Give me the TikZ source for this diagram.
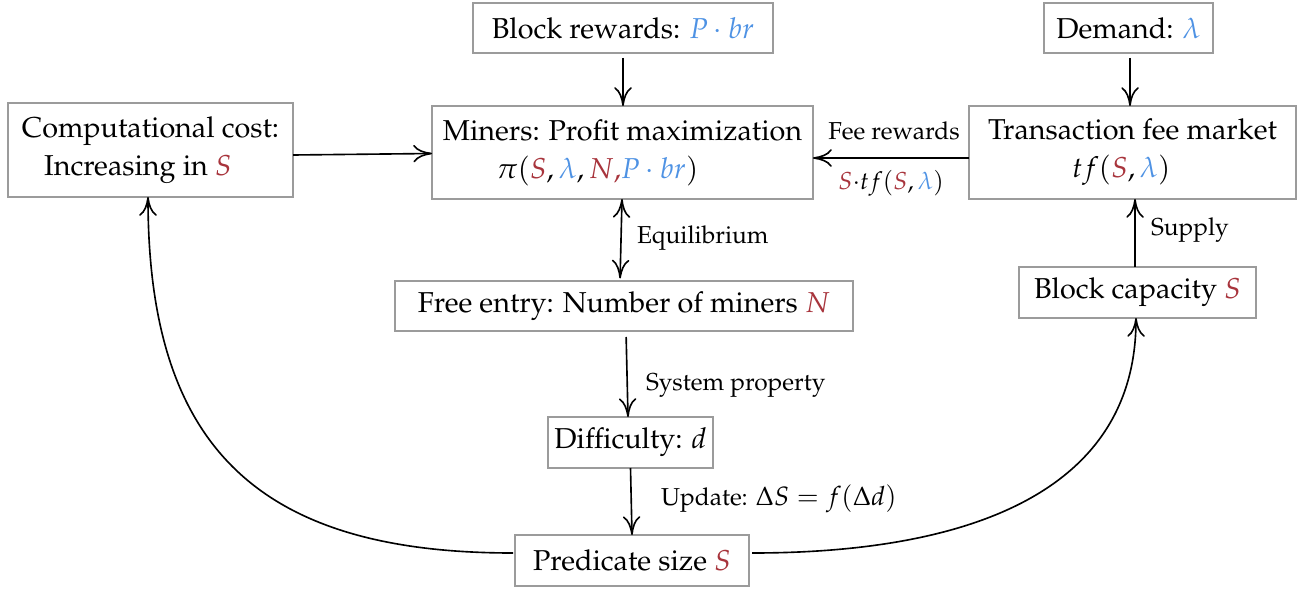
\documentclass[tikz,border=0pt]{standalone}
\usepackage[T1]{fontenc}
\usepackage{mathpazo}
\usetikzlibrary{arrows.meta}
\definecolor{myred}{RGB}{168,52,60}
\definecolor{myblue}{RGB}{78,146,228}
\definecolor{boxgray}{RGB}{155,155,155}
\tikzset{
  box/.style={draw=boxgray, line width=0.7pt, fill=white, inner sep=0pt, outer sep=0pt,
    align=center, font=\fontsize{11.5}{15.2}\selectfont},
  lbl/.style={inner sep=0pt, outer sep=0pt, font=\fontsize{9.8}{12}\selectfont},
  tip/.tip={Computer Modern Rightarrow[length=7.5pt,width=7pt]},
  arr/.style={-tip, line width=0.65pt},
  biarr/.style={tip-tip, line width=0.65pt},
}
\newcommand{\rS}{\textcolor{myred}{S}}
\newcommand{\bl}{\textcolor{myblue}{\lambda}}
\begin{document}
\begin{tikzpicture}[x=0.4pt,y=-0.4pt]
\useasboundingbox (0,0) rectangle (1310,592);

% nodes
\node[box, minimum width=114pt, minimum height=37.6pt] (comp) at (150.5,150)
  {Computational cost:\\ Increasing in $\rS$\hspace*{10pt}};
\node[box, minimum width=120pt, minimum height=20pt] (brew) at (623,28)
  {Block rewards: $\textcolor{myblue}{P\cdot br}$};
\node[box, minimum width=152.4pt, minimum height=37.2pt] (miners) at (622.5,152.5)
  {Miners: Profit maximization\\ $\pi(\rS,\bl,\textcolor{myred}{N,}\textcolor{myblue}{P\cdot br})$\hspace*{20pt}};
\node[box, minimum width=67.6pt, minimum height=20pt] (demand) at (1128.5,28)
  {Demand: $\bl$};
\node[box, minimum width=130.8pt, minimum height=37.2pt] (trans) at (1132.5,152.5)
  {Transaction fee market\\ $tf(\rS,\bl)$\hspace*{9pt}};
\node[box, minimum width=183.2pt, minimum height=20pt] (free) at (624,306)
  {Free entry: Number of miners $\textcolor{myred}{N}$};
\node[box, minimum width=94.8pt, minimum height=20.4pt] (bcap) at (1137.5,292.5)
  {Block capacity $\rS$};
\node[box, minimum width=66pt, minimum height=20.4pt] (diff) at (630.5,442.5)
  {Difficulty: $d$};
\node[box, minimum width=93.6pt, minimum height=20.4pt] (pred) at (632,560.5)
  {Predicate size $\rS$};

% connectors
\draw[arr] ([yshift=-2pt]comp.east) -- ([yshift=-0.4pt]miners.west);
\draw[arr, shorten <=2pt] (brew.south) -- (brew.south |- miners.north);
\draw[arr] ([yshift=-2.2pt]trans.west) -- ([yshift=-2.2pt]miners.east);
\draw[arr, shorten <=2pt] ([xshift=0.6pt]demand.south) -- ([xshift=0.6pt]demand.south |- trans.north);
\draw[biarr, shorten >=1pt] ([xshift=-0.2pt]miners.south) -- ([xshift=-1.6pt]free.north);
\draw[arr, shorten <=2.4pt] ([xshift=0.8pt]free.south) -- ([xshift=-1pt]diff.north);
\draw[arr] (diff.south) -- (pred.north);
\draw[arr] ([xshift=-1pt]bcap.north) -- ([xshift=-1pt]bcap.north |- trans.south);
\draw[arr] ([xshift=-0.8pt,yshift=3pt]pred.west) .. controls +(-255,0) and +(0,250) .. ([xshift=-1pt]comp.south);
\draw[arr] ([xshift=1.2pt,yshift=3pt]pred.east) .. controls +(215,0) and +(0,175) .. ([xshift=-0.6pt]bcap.south);

% labels
\node[lbl, anchor=base] (feelbl) at (894,140) {Fee rewards};
\node[lbl, anchor=base] (stflbl) at (891,190) {$\rS{\cdot}tf(\rS,\bl)$};
\node[lbl, anchor=base west] (eqlbl) at (637,243) {Equilibrium};
\node[lbl, anchor=base west] (syslbl) at (646,390) {System property};
\node[lbl, anchor=base west] (updlbl) at (661,505) {Update: {\fontsize{10.6}{12}\selectfont$\Delta S = f(\Delta d)$}};
\node[lbl, anchor=base west] (suplbl) at (1151,236) {Supply};
\end{tikzpicture}
\end{document}
